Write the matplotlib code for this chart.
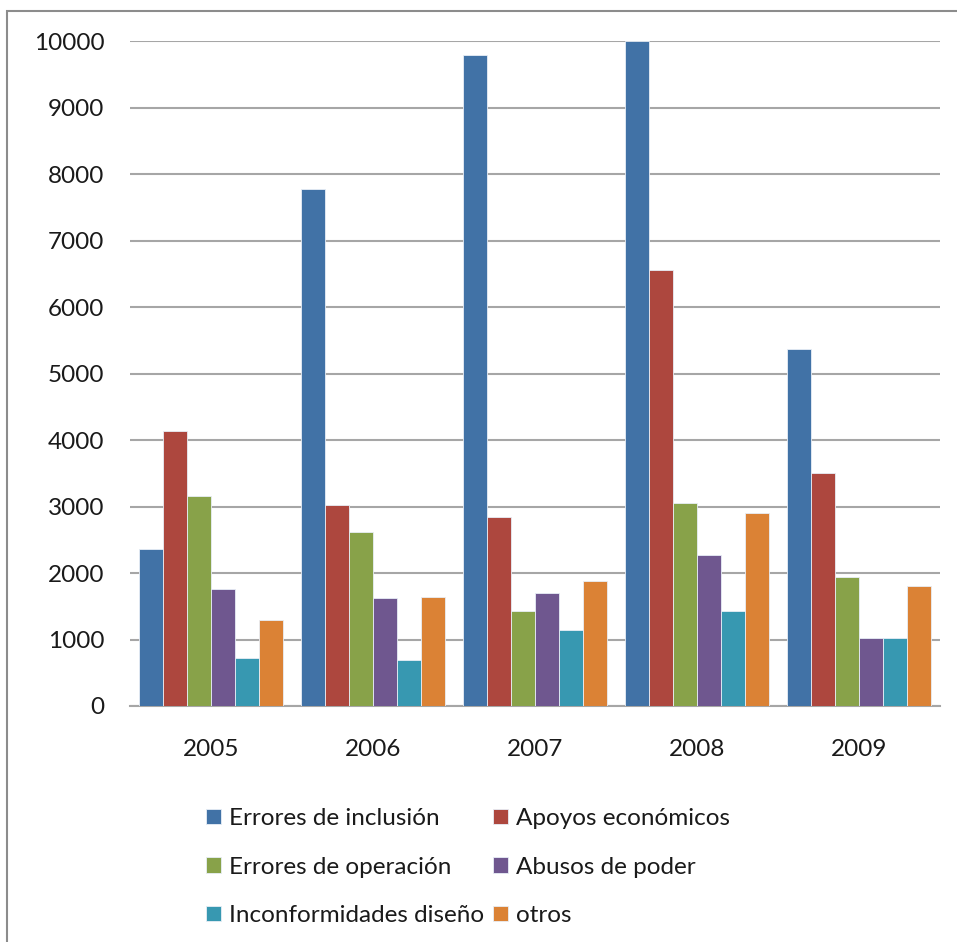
import matplotlib
matplotlib.use("Agg")
import matplotlib.pyplot as plt
import numpy as np
from matplotlib.patches import Rectangle

years = ["2005", "2006", "2007", "2008", "2009"]
series_names = ["Errores de inclusión", "Apoyos económicos", "Errores de operación",
                "Abusos de poder", "Inconformidades diseño", "otros"]
errores_inclusion = [2365, 7775, 9790, 10000, 5365]
apoyos_economicos = [4140, 3025, 2847, 6565, 3504]
errores_operacion = [3153, 2617, 1424, 3058, 1945]
abusos_poder = [1755, 1619, 1694, 2271, 1018]
inconformidades = [717, 697, 1138, 1424, 1018]
otros = [1288, 1634, 1885, 2907, 1810]
yticks = [0, 1000, 2000, 3000, 4000, 5000, 6000, 7000, 8000, 9000, 10000]

series = [errores_inclusion, apoyos_economicos, errores_operacion, abusos_poder, inconformidades, otros]
colors = ["#4172A6", "#AD473E", "#88A249", "#6F578F", "#3798B1", "#DB8235"]

plt.rcParams['font.family'] = ['Lato', 'DejaVu Sans']
FS = 17.5

W, H = 957, 942
fig = plt.figure(figsize=(W / 100, H / 100), dpi=100)
fig.patches.append(Rectangle((7 / W, -0.1), 1.2, 1.1 - 11 / H, transform=fig.transFigure,
                             fill=False, edgecolor="#8C8C8C", linewidth=1.5))

ax = fig.add_axes([130 / W, 1 - 706 / H, (940 - 130) / W, (706 - 41.3) / H])
x = np.arange(len(years))
n = len(series)
group = 0.885
bw = group / n
bars = []
for i, (vals, c) in enumerate(zip(series, colors)):
    b = ax.bar(x - group / 2 + bw * (i + 0.5), vals, width=bw, color=c,
               edgecolor="#E8EEF6", linewidth=0.6, label=series_names[i], zorder=3)
    bars.append(b)

ax.set_xlim(-0.5, len(years) - 0.5)
ax.set_ylim(0, 10000)
ax.set_yticks(yticks)
ax.set_yticklabels([str(t) for t in yticks], fontsize=FS, color="#1A1A1A")
ax.set_xticks(x)
ax.set_xticklabels(years, fontsize=FS, color="#1A1A1A")
ax.tick_params(axis='y', length=0, pad=18.5)
ax.tick_params(axis='x', length=0, pad=23.5)
ax.yaxis.grid(True, color="#A6A6A6", linewidth=1.5, zorder=0)
for s in ["left", "right", "top"]:
    ax.spines[s].set_visible(False)
ax.spines["bottom"].set_color("#A6A6A6")
ax.spines["bottom"].set_linewidth(1.5)

order = [0, 2, 4, 1, 3, 5]
handles = [bars[i] for i in order]
labels = [series_names[i] for i in order]
fig.legend(handles, labels, ncol=2, loc="upper left", bbox_to_anchor=(194 / W, 1 - 796 / H),
           frameon=False, fontsize=FS, handlelength=0.62, handleheight=0.62,
           handletextpad=0.3, columnspacing=0.4, labelspacing=1.13, borderpad=0,
           labelcolor="#1A1A1A")

fig.savefig("out.png", dpi=100)
